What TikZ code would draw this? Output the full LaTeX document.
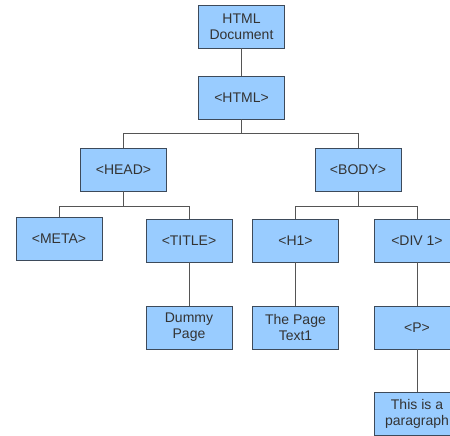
\documentclass[tikz,border=0pt]{standalone}
\usepackage{fontspec}
\setmainfont{Liberation Sans}
\definecolor{boxfill}{HTML}{99CCFF}
\definecolor{boxline}{HTML}{3D4A5A}
\definecolor{txt}{HTML}{333333}
\definecolor{conn}{HTML}{555555}
\begin{document}
\begin{tikzpicture}[x=1pt,y=-1pt,
  box/.style={draw=boxline, fill=boxfill, line width=0.8pt, minimum width=86pt, minimum height=43pt,
    inner sep=0pt, align=center, text=txt, font=\fontsize{14}{16}\selectfont},
  link/.style={draw=conn, line width=0.8pt}]
\useasboundingbox (0,0) rectangle (450,436);
\node[box] (doc) at (241.5,26.5) {HTML\\Document};
\node[box] (html) at (241.5,97.5) {<HTML>};
\node[box] (head) at (123.5,169.5) {<HEAD>};
\node[box] (body) at (358,169.5) {<BODY>};
\node[box] (meta) at (59,238.5) {<META>};
\node[box] (title) at (189,240.5) {<TITLE>};
\node[box] (h1) at (295.5,240.5) {<H1>};
\node[box] (div) at (417,240.5) {<DIV 1>};
\node[box] (dummy) at (189,327.5) {Dummy\\Page};
\node[box] (text1) at (295.5,327.5) {The Page\\Text1};
\node[box] (p) at (417,327.5) {<P>};
\node[box] (para) at (417,413.5) {This is a\\paragraph};
\draw[link] (doc) -- (html);
\draw[link] (html.south) -- ++(0,14) -| (head.north);
\draw[link] (html.south) -- ++(0,14) -| (body.north);
\draw[link] (head.south) -- ++(0,15) -| (meta.north);
\draw[link] (head.south) -- ++(0,15) -| (title.north);
\draw[link] (body.south) -- ++(0,15) -| (h1.north);
\draw[link] (body.south) -- ++(0,15) -| (div.north);
\draw[link] (title) -- (dummy);
\draw[link] (h1) -- (text1);
\draw[link] (div) -- (p);
\draw[link] (p) -- (para);
\end{tikzpicture}
\end{document}
